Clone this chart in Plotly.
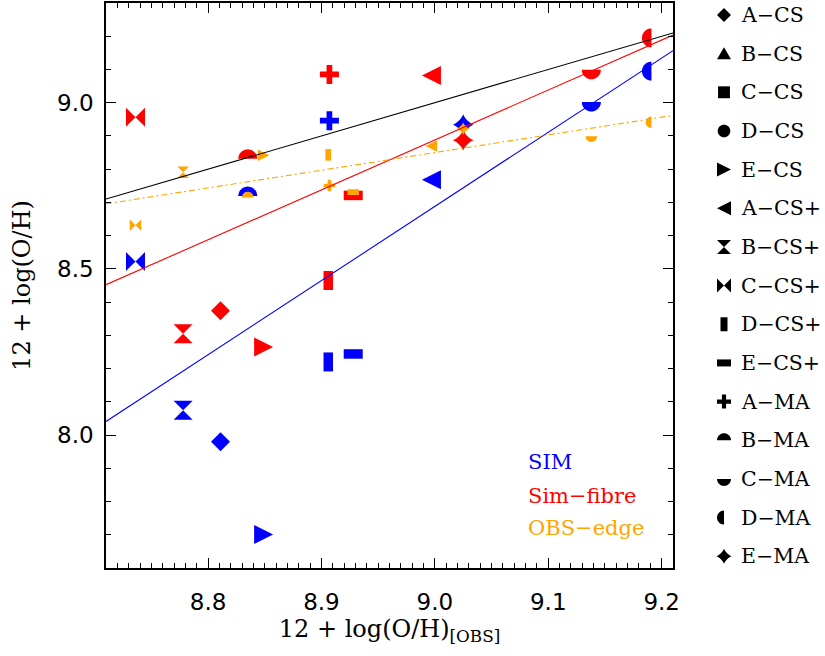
import numpy as np
import plotly.graph_objects as go

# ---------------- data ----------------
labels = ["A−CS", "B−CS", "C−CS", "D−CS", "E−CS",
          "A−CS+", "B−CS+", "C−CS+", "D−CS+", "E−CS+",
          "A−MA", "B−MA", "C−MA", "D−MA", "E−MA"]
symbols = ["diamond", "triangle-up", "square", "circle", "triangle-right",
           "triangle-left", "hourglass", "bowtie", "vrect", "hrect",
           "plus", "half-top", "half-bottom", "half-left", "star4"]

x_obs = [8.811, None, None, None, 8.849, 8.997, 8.778, 8.736, 8.906, 8.928,
         8.907, 8.835, 9.138, 9.191, 9.025]
y_sim = [7.980, None, None, None, 7.701, 8.768, 8.075, 8.522, 8.220, 8.244,
         8.946, 8.719, 9.002, 9.095, 8.934]
y_fibre = [8.374, None, None, None, 8.265, 9.082, 8.305, 8.956, 8.465, 8.721,
           9.085, 8.831, 9.099, 9.195, 8.887]
y_edge = [None, None, None, None, 8.842, 8.870, 8.791, 8.631, 8.843, 8.731,
          8.751, 8.715, 8.899, 8.941, 8.922]

series_names = ["SIM", "Sim−fibre", "OBS−edge"]
series_values = [y_sim, y_fibre, y_edge]
series_colors = ["#0000FF", "#FF0000", "#FFA500"]
series_sizes = [19, 19, 11.5]

fit_names = ["1:1", "Sim−fibre fit", "SIM fit", "OBS−edge fit"]
fit_slopes = [1.0, 1.502, 2.232, 0.532]
fit_intercepts = [0.0, -4.630, -11.400, 4.062]
fit_colors = ["#000000", "#FF0000", "#0000FF", "#FFA500"]
fit_dash = ["solid", "solid", "solid", "6px,3px,2px,3px"]

x_range = [8.71, 9.21]
y_range = [7.6, 9.3]

# ---------------- layout constants ----------------
W, H = 825, 656
ML, MR, MT, MB = 106, 152, 1, 88
PW, PH = W - ML - MR, H - MT - MB

SERIF = "DejaVu Serif"
SANS = "DejaVu Sans"


def sym_path(sym, s):
    h = s / 2.0
    if sym == "diamond":
        pts = [(h, 0), (0, h), (-h, 0), (0, -h)]
    elif sym == "triangle-up":
        pts = [(-h, -0.8 * h), (h, -0.8 * h), (0, 0.9 * h)]
    elif sym == "square":
        pts = [(-0.85 * h, -0.85 * h), (0.85 * h, -0.85 * h), (0.85 * h, 0.85 * h), (-0.85 * h, 0.85 * h)]
    elif sym == "circle":
        t = np.linspace(0, 2 * np.pi, 33)[:-1]
        pts = list(zip(0.9 * h * np.cos(t), 0.9 * h * np.sin(t)))
    elif sym == "triangle-right":
        pts = [(-h, -h), (-h, h), (h, 0)]
    elif sym == "triangle-left":
        pts = [(h, -h), (h, h), (-h, 0)]
    elif sym == "hourglass":
        pts = [(-h, h), (h, h), (-h, -h), (h, -h)]
    elif sym == "bowtie":
        pts = [(h, h), (h, -h), (-h, h), (-h, -h)]
    elif sym == "vrect":
        pts = [(-0.5 * h, -h), (0.5 * h, -h), (0.5 * h, h), (-0.5 * h, h)]
    elif sym == "hrect":
        pts = [(-h, -0.5 * h), (h, -0.5 * h), (h, 0.5 * h), (-h, 0.5 * h)]
    elif sym == "plus":
        a = 0.3 * h
        pts = [(-a, h), (a, h), (a, a), (h, a), (h, -a), (a, -a), (a, -h),
               (-a, -h), (-a, -a), (-h, -a), (-h, a), (-a, a)]
    elif sym == "half-top":
        t = np.linspace(0, np.pi, 25)
        pts = list(zip(h * np.cos(t), h * np.sin(t)))
    elif sym == "half-bottom":
        t = np.linspace(np.pi, 2 * np.pi, 25)
        pts = list(zip(h * np.cos(t), h * np.sin(t)))
    elif sym == "half-left":
        t = np.linspace(np.pi / 2, 1.5 * np.pi, 25)
        pts = list(zip(h * np.cos(t), h * np.sin(t)))
    elif sym == "star4":
        h = h * 1.12
        t = np.linspace(0, 2 * np.pi, 81)[:-1]
        c, sn = np.cos(t), np.sin(t)
        pts = list(zip(h * np.sign(c) * np.abs(c) ** 2.7, h * np.sign(sn) * np.abs(sn) ** 2.7))
    else:
        pts = []
    return "M" + "L".join(f"{x:.2f},{y:.2f}" for x, y in pts) + "Z"


fig = go.Figure()

# fit lines
xl = np.linspace(x_range[0], x_range[1], 2)
for name, m, b, col, d in zip(fit_names, fit_slopes, fit_intercepts, fit_colors, fit_dash):
    fig.add_trace(go.Scatter(x=xl, y=m * xl + b, mode="lines", name=name,
                             line=dict(color=col, width=1.1, dash=d),
                             showlegend=False, hoverinfo="skip"))

shapes = []
# data markers (blue, red, then orange on top)
for vals, col, sz in zip(series_values, series_colors, series_sizes):
    for sym, xv, yv in zip(symbols, x_obs, vals):
        if xv is None or yv is None:
            continue
        shapes.append(dict(type="path", xref="x", yref="y",
                           xsizemode="pixel", ysizemode="pixel",
                           xanchor=xv, yanchor=yv, path=sym_path(sym, sz),
                           fillcolor=col, line=dict(width=0), layer="below"))

# symbol key on the right
annotations = []
key_x_px = 724
key_text_px = 739
key_y0_px, key_dy_px = 13, 38.8
for i, (lab, sym) in enumerate(zip(labels, symbols)):
    ypx = key_y0_px + i * key_dy_px
    yp = (MT + PH - ypx) / PH
    shapes.append(dict(type="path", xref="paper", yref="paper",
                       xsizemode="pixel", ysizemode="pixel",
                       xanchor=(key_x_px - ML) / PW, yanchor=yp,
                       path=sym_path(sym, 14), fillcolor="black",
                       line=dict(width=0), layer="above"))
    annotations.append(dict(xref="paper", yref="paper",
                            x=(key_text_px - ML) / PW, y=yp,
                            xanchor="left", yanchor="middle", showarrow=False,
                            text=lab, font=dict(family=SERIF, size=20.5, color="black")))

# colour key inside plot
ck_x_px = 526
ck_y_px = [462, 496, 528]
for name, col, ypx in zip(series_names, series_colors, ck_y_px):
    annotations.append(dict(xref="paper", yref="paper",
                            x=(ck_x_px - ML) / PW, y=(MT + PH - ypx) / PH,
                            xanchor="left", yanchor="middle", showarrow=False,
                            text=name, font=dict(family=SERIF, size=21, color=col)))

axis_common = dict(showline=True, linecolor="black", linewidth=1.5, mirror="allticks",
                   ticks="inside", ticklen=10, tickwidth=1, tickcolor="black",
                   showgrid=False, zeroline=False,
                   tickfont=dict(family=SANS, size=23, color="black"))

fig.update_layout(
    width=W, height=H,
    margin=dict(l=ML, r=MR, t=MT, b=MB, pad=0),
    paper_bgcolor="white", plot_bgcolor="white",
    showlegend=False,
    xaxis=dict(range=x_range, tick0=8.8, dtick=0.1, tickformat=".1f",
               minor=dict(dtick=0.01, ticks="inside", ticklen=5, tickcolor="black", showgrid=False),
               ticklabelstandoff=13,
               title=dict(text="12 + log(O/H)<sub>[OBS]</sub>", standoff=5,
                          font=dict(family=SERIF, size=24, color="black")),
               **axis_common),
    yaxis=dict(range=y_range, tick0=8.0, dtick=0.5, tickformat=".1f",
               minor=dict(dtick=0.1, ticks="inside", ticklen=5, tickcolor="black", showgrid=False),
               ticklabelstandoff=6,
               title=dict(text="12 + log(O/H)", standoff=20,
                          font=dict(family=SERIF, size=24, color="black")),
               **axis_common),
    shapes=shapes,
    annotations=annotations,
)

fig.write_html("out.html")
